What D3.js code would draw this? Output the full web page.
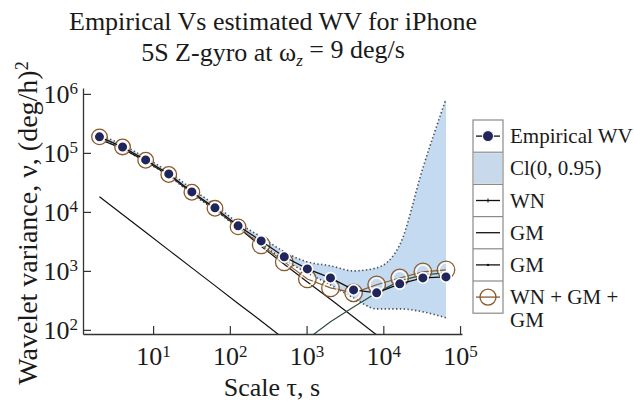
<!DOCTYPE html>
<html>
<head>
<meta charset="utf-8">
<script src="https://cdn.jsdelivr.net/npm/d3@7"></script>
<style>
  html, body { margin: 0; padding: 0; background: #fff; }
  svg text { font-family: "Liberation Serif", "Times New Roman", serif; fill: #1a1a1a; }
</style>
</head>
<body>
<script>
// Averaging scales (s), dyadic
const tau = [2, 4, 8, 16, 32, 64, 128, 256, 512, 1024, 2048, 4096, 8192, 16384, 32768, 65536];

// Empirical wavelet variance, (deg/h)^2
const empiricalWV = [187000, 126000, 76000, 44000, 21800, 11700, 5800, 3220, 1730, 1080, 760, 476, 424, 603, 760, 790];

// Fitted WN + GM + GM model
const modelWV = [187000, 126000, 75000, 43000, 21500, 11500, 5570, 2760, 1420, 731, 515, 424, 580, 760, 962, 1040];

// 95% confidence interval bounds
const ciUpper = [202000, 137000, 82000, 47600, 24500, 13100, 6500, 3770, 2100, 1420, 1220, 1000, 1125, 2760, 55700, 822000];
const ciLower = [172600, 117000, 70300, 40700, 20200, 10800, 5360, 2870, 1535, 925, 580, 348, 227, 227, 202, 160];

// Model components
const wnTau = [2, 4, 8, 16, 32, 64, 128, 256, 512];
const wnWV = [18000, 9000, 4500, 2250, 1125, 562, 281, 141, 70];
const gm1Tau = [2, 4, 8, 16, 32, 64, 128, 256, 512, 1024, 2048, 4096, 8192];
const gm1WV = [170000, 118000, 72000, 42000, 20800, 11200, 5500, 2600, 1300, 650, 330, 165, 82];
const gm2Tau = [1024, 2048, 4096, 8192, 16384, 32768, 65536];
const gm2WV = [70, 137, 245, 424, 676, 855, 925];

// Axis ticks
const xTicks = [10, 100, 1000, 10000, 100000];
const yTicks = [100, 1000, 10000, 100000, 1000000];

const legendLabels = ["Empirical WV", "Cl(0, 0.95)", "WN", "GM", "GM", ["WN + GM +", "GM"]];

const W = 634, H = 406;
const plot = { left: 83, right: 462, top: 88, bottom: 334 };

const svg = d3.select("body").append("svg").attr("width", W).attr("height", H);

const x = d3.scaleLog().domain([1.22, 1.06e5]).range([plot.left, plot.right]);
const y = d3.scaleLog().domain([Math.pow(10, 1.93), Math.pow(10, 6.1)]).range([plot.bottom, plot.top]);

const colors = {
  band: "#c4daf0",
  bandLegend: "#c9d9ec",
  dot: "#20265a",
  model: "#8a5a2c",
  gm2: "#2d4d3d"
};

svg.append("defs").append("clipPath").attr("id", "plotClip")
  .append("rect")
  .attr("x", plot.left).attr("y", plot.top)
  .attr("width", plot.right - plot.left).attr("height", plot.bottom - plot.top);

const g = svg.append("g").attr("clip-path", "url(#plotClip)");

// Confidence band
const band = d3.area()
  .x((d, i) => x(tau[i]))
  .y0((d, i) => y(ciLower[i]))
  .y1((d, i) => y(ciUpper[i]))
  .curve(d3.curveMonotoneX);
g.append("path").datum(tau).attr("d", band).attr("fill", colors.band);

const boundLine = arr => d3.line()
  .x((d, i) => x(tau[i]))
  .y((d, i) => y(arr[i]))
  .curve(d3.curveMonotoneX)(tau);
[ciUpper, ciLower].forEach(arr => {
  g.append("path").attr("d", boundLine(arr))
    .attr("fill", "none").attr("stroke", "#4a4f5a")
    .attr("stroke-width", 1.6).attr("stroke-dasharray", "1.4,2.4");
});

// Component lines
const simpleLine = (ts, vs) => d3.line().x((d, i) => x(ts[i])).y((d, i) => y(vs[i]))(ts);
g.append("path").attr("d", simpleLine(wnTau, wnWV))
  .attr("fill", "none").attr("stroke", "#111").attr("stroke-width", 1.2);
g.append("path").attr("d", simpleLine(gm1Tau, gm1WV))
  .attr("fill", "none").attr("stroke", "#111").attr("stroke-width", 1.2);
g.append("path").attr("d", simpleLine(gm2Tau, gm2WV))
  .attr("fill", "none").attr("stroke", colors.gm2).attr("stroke-width", 1.2);

// Model line with open circles
g.append("path").attr("d", simpleLine(tau, modelWV))
  .attr("fill", "none").attr("stroke", colors.model).attr("stroke-width", 1.1);
g.selectAll("circle.halo").data(tau).enter().append("circle")
  .attr("cx", d => x(d)).attr("cy", (d, i) => y(modelWV[i])).attr("r", 6.8)
  .attr("fill", "none").attr("stroke", "#fff").attr("stroke-width", 1.6).attr("stroke-opacity", 0.85);
g.selectAll("circle.model").data(tau).enter().append("circle")
  .attr("cx", d => x(d)).attr("cy", (d, i) => y(modelWV[i])).attr("r", (d, i) => i < 7 ? 7.8 : 8.8)
  .attr("fill", "none").attr("stroke", colors.model).attr("stroke-width", 1.3);

// Empirical line with filled dots
g.append("path").attr("d", simpleLine(tau, empiricalWV))
  .attr("fill", "none").attr("stroke", "#111").attr("stroke-width", 1.2);
g.selectAll("circle.emp").data(tau).enter().append("circle")
  .attr("cx", d => x(d)).attr("cy", (d, i) => y(empiricalWV[i])).attr("r", 5.3)
  .attr("fill", colors.dot).attr("stroke", "#fff").attr("stroke-width", 1.6);

// Axes
const supLabel = (sel) => {
  sel.each(function (d) {
    const t = d3.select(this);
    t.text(null);
    t.append("tspan").text("10");
    t.append("tspan").attr("dy", "-0.5em").style("font-size", "17px").text(Math.round(Math.log10(d)));
  });
};

const xAxis = svg.append("g").attr("transform", `translate(0,${plot.bottom})`)
  .call(d3.axisBottom(x).tickValues(xTicks).tickSizeInner(-8).tickSizeOuter(0).tickPadding(13));
xAxis.selectAll("text").style("font-size", "26px").call(supLabel);

const yAxis = svg.append("g").attr("transform", `translate(${plot.left},0)`)
  .call(d3.axisLeft(y).tickValues(yTicks).tickSizeInner(-8).tickSizeOuter(0).tickPadding(5));
yAxis.selectAll("text").style("font-size", "26px").call(supLabel);

[xAxis, yAxis].forEach(a => {
  a.select(".domain").attr("stroke", "#333").attr("stroke-width", 1.3);
  a.selectAll(".tick line").attr("stroke", "#333").attr("stroke-width", 1.2);
});

// Titles
const title = svg.append("text").attr("text-anchor", "middle").style("font-size", "26px");
title.append("tspan").attr("x", 273).attr("y", 30).text("Empirical Vs estimated WV for iPhone");
const t2 = title.append("tspan").attr("x", 273).attr("y", 61);
t2.text("5S Z-gyro at ω");
title.append("tspan").attr("dy", "0.3em").style("font-size", "17px").style("font-style", "italic").text("z");
title.append("tspan").attr("dy", "-0.3em").text(" = 9 deg/s");

svg.append("text").attr("x", 272).attr("y", 396).attr("text-anchor", "middle")
  .style("font-size", "26px").text("Scale τ, s");

const yl = svg.append("text").attr("transform", "translate(37,223) rotate(-90)")
  .attr("text-anchor", "middle").style("font-size", "28px");
yl.append("tspan").text("Wavelet variance, ν, (deg/h)");
yl.append("tspan").attr("dy", "-0.5em").style("font-size", "18px").text("2");

// Legend
const lg = { x: 473, y: 120, w: 30, rowH: 32.2 };
const legend = svg.append("g");
legendLabels.forEach((lab, i) => {
  const ry = lg.y + i * lg.rowH;
  const cy = ry + lg.rowH / 2;
  const cx = lg.x + lg.w / 2;
  if (i === 1) {
    legend.append("rect").attr("x", lg.x + 1).attr("y", ry + 1)
      .attr("width", lg.w - 2).attr("height", lg.rowH - 2).attr("fill", colors.bandLegend);
  } else {
    const stroke = i === 5 ? colors.model : "#111";
    legend.append("line").attr("x1", lg.x + 3).attr("x2", lg.x + lg.w - 3)
      .attr("y1", cy).attr("y2", cy).attr("stroke", stroke).attr("stroke-width", 1.3);
    if (i === 0) {
      legend.append("circle").attr("cx", cx).attr("cy", cy).attr("r", 5.5)
        .attr("fill", colors.dot).attr("stroke", "#fff").attr("stroke-width", 1);
    } else if (i === 2) {
      legend.append("line").attr("x1", cx).attr("x2", cx).attr("y1", cy - 2).attr("y2", cy + 2)
        .attr("stroke", "#111").attr("stroke-width", 1);
    } else if (i === 4) {
      legend.append("circle").attr("cx", cx).attr("cy", cy).attr("r", 1.2).attr("fill", "#111");
    } else if (i === 5) {
      legend.append("circle").attr("cx", cx).attr("cy", cy).attr("r", 8)
        .attr("fill", "none").attr("stroke", colors.model).attr("stroke-width", 1.3);
    }
  }
  const txt = legend.append("text").attr("x", 510).attr("y", cy + 7).style("font-size", "21px");
  if (Array.isArray(lab)) {
    lab.forEach((s, j) => txt.append("tspan").attr("x", 510).attr("dy", j === 0 ? 0 : 23).text(s));
  } else {
    txt.text(lab);
  }
});
legend.append("rect").attr("x", lg.x).attr("y", lg.y)
  .attr("width", lg.w).attr("height", lg.rowH * legendLabels.length)
  .attr("fill", "none").attr("stroke", "#8a8a8a").attr("stroke-width", 1.2);
d3.range(1, legendLabels.length).forEach(i => {
  legend.append("line").attr("x1", lg.x).attr("x2", lg.x + lg.w)
    .attr("y1", lg.y + i * lg.rowH).attr("y2", lg.y + i * lg.rowH)
    .attr("stroke", "#8a8a8a").attr("stroke-width", 1.2);
});
</script>
</body>
</html>
